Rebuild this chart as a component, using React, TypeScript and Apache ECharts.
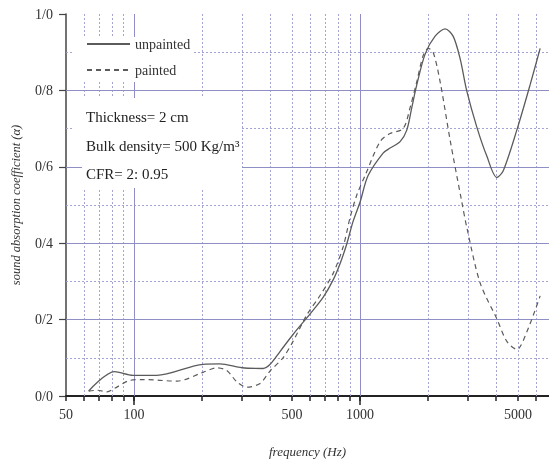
import React, { useEffect, useRef } from "react";
import * as echarts from "echarts";

const unpaintedFreq = [63, 82, 99, 126, 202, 240, 300, 372, 400, 443, 505, 601, 686, 760, 816, 873, 931, 1000, 1085, 1264, 1357, 1503, 1609, 1693, 1782, 1939, 2147, 2378, 2579, 2770, 2966, 3284, 3636, 4027, 4293, 4935, 5653, 6259];
const unpaintedAlpha = [0.013, 0.064, 0.054, 0.054, 0.083, 0.084, 0.074, 0.072, 0.083, 0.117, 0.161, 0.215, 0.258, 0.304, 0.347, 0.398, 0.457, 0.508, 0.577, 0.636, 0.649, 0.666, 0.696, 0.755, 0.815, 0.895, 0.942, 0.961, 0.942, 0.883, 0.798, 0.704, 0.628, 0.572, 0.589, 0.696, 0.815, 0.91];

const paintedFreq = [63, 69, 76, 82, 96, 110, 155, 202, 233, 258, 286, 316, 361, 400, 456, 505, 581, 665, 760, 841, 903, 967, 1052, 1226, 1357, 1550, 1664, 1782, 1901, 2000, 2104, 2259, 2502, 2818, 2966, 3396, 4027, 4458, 4935, 5466, 6259];
const paintedAlpha = [0.013, 0.015, 0.011, 0.02, 0.041, 0.043, 0.039, 0.062, 0.074, 0.066, 0.036, 0.023, 0.033, 0.066, 0.1, 0.143, 0.212, 0.263, 0.321, 0.39, 0.467, 0.526, 0.577, 0.666, 0.687, 0.7, 0.755, 0.823, 0.891, 0.91, 0.9, 0.823, 0.67, 0.508, 0.441, 0.296, 0.202, 0.143, 0.122, 0.168, 0.262];

const seriesNames = ["unpainted", "painted"];
const xLabelValues = [50, 100, 500, 1000, 5000];
const xTickValues = [50, 60, 70, 80, 90, 100, 200, 300, 400, 500, 600, 700, 800, 900, 1000, 2000, 3000, 4000, 5000, 6000];
const xLongTickValues = [100, 1000];
const minorXGrid = [60, 70, 80, 90, 200, 300, 400, 500, 600, 700, 800, 900, 2000, 3000, 4000, 5000, 6000];
const majorXGrid = [100, 1000];
const majorYGrid = [0.2, 0.4, 0.6, 0.8];
const minorYGrid = [0.1, 0.3, 0.5, 0.7, 0.9];
const notes = ["Thickness= 2 cm", "Bulk density= 500 Kg/m³", "CFR= 2: 0.95"];

const SERIF = "'Liberation Serif', 'DejaVu Serif', serif";

export default function App() {
  const ref = useRef<HTMLDivElement>(null);
  useEffect(() => {
    if (!ref.current) return;
    const chart = echarts.init(ref.current, undefined, { renderer: "svg" });
    const minorStyle = { color: "#a5a5d4", width: 1, type: [2, 2] as any };
    const majorStyle = { color: "#8f8fc6", width: 1, type: "solid" as any };
    const gridMarks = [
      ...minorXGrid.map((v) => ({ xAxis: v, lineStyle: minorStyle })),
      ...minorYGrid.map((v) => ({ yAxis: v, lineStyle: minorStyle })),
      ...majorXGrid.map((v) => ({ xAxis: v, lineStyle: majorStyle })),
      ...majorYGrid.map((v) => ({ yAxis: v, lineStyle: majorStyle })),
    ];
    chart.setOption({
      animation: false,
      grid: { left: 66, top: 14, right: 0, bottom: 57 },
      legend: {
        data: seriesNames,
        orient: "vertical",
        left: 86,
        top: 37,
        padding: 0,
        itemWidth: 43,
        itemHeight: 14,
        itemGap: 12,
        itemStyle: { opacity: 0 },
        textStyle: { fontFamily: SERIF, fontSize: 14, color: "#333" },
        z: 200,
      },
      xAxis: [
        {
          type: "log",
          logBase: 10,
          min: 50,
          max: 6850,
          name: "frequency (Hz)",
          nameLocation: "middle",
          nameGap: 49,
          nameTextStyle: { fontFamily: SERIF, fontStyle: "italic", fontSize: 13, color: "#333" },
          axisLine: { show: true, lineStyle: { color: "#222", width: 2 } },
          axisTick: { show: true, inside: false, length: 5, customValues: xTickValues, lineStyle: { color: "#222", width: 1.5 } },
          axisLabel: {
            customValues: xLabelValues,
            margin: 11,
            fontFamily: SERIF,
            fontSize: 14,
            color: "#333",
            formatter: (v: number) => String(Math.round(v)),
          },
          splitLine: { show: false },
        },
        {
          type: "log",
          logBase: 10,
          min: 50,
          max: 6850,
          position: "bottom",
          axisLine: { show: false },
          axisTick: { show: true, inside: false, length: 9, customValues: xLongTickValues, lineStyle: { color: "#222", width: 1.5 } },
          axisLabel: { show: false },
          splitLine: { show: false },
        },
      ],
      yAxis: {
        type: "value",
        min: 0,
        max: 1,
        interval: 0.2,
        name: "sound absorption coefficient (α)",
        nameLocation: "middle",
        nameGap: 44,
        nameTextStyle: { fontFamily: SERIF, fontStyle: "italic", fontSize: 12.5, color: "#333" },
        axisLine: { show: true, lineStyle: { color: "#444", width: 1.5 } },
        axisTick: { show: true, inside: false, length: 7, lineStyle: { color: "#444", width: 1.2 } },
        axisLabel: {
          margin: 13,
          fontFamily: SERIF,
          fontSize: 14,
          color: "#333",
          formatter: (v: number) => v.toFixed(1).replace(".", "/"),
        },
        splitLine: { show: false },
      },
      series: [
        {
          name: "grid",
          type: "line",
          data: [],
          silent: true,
          z: 1,
          markLine: { silent: true, symbol: "none", label: { show: false }, data: gridMarks },
        },
        {
          name: seriesNames[0],
          type: "line",
          z: 5,
          smooth: 0.3,
          symbol: "none",
          lineStyle: { color: "#5b5b5b", width: 1.3, type: "solid" },
          itemStyle: { color: "#5b5b5b" },
          data: unpaintedFreq.map((f, i) => [f, unpaintedAlpha[i]]),
        },
        {
          name: seriesNames[1],
          type: "line",
          z: 5,
          smooth: 0.3,
          symbol: "none",
          lineStyle: { color: "#5b5b5b", width: 1.2, type: [5, 4] },
          itemStyle: { color: "#5b5b5b" },
          data: paintedFreq.map((f, i) => [f, paintedAlpha[i]]),
        },
      ],
      graphic: [
        { type: "rect", z: 100, left: 73, top: 37, shape: { width: 120, height: 45 }, style: { fill: "#fff" } },
        { type: "rect", z: 100, left: 73, top: 98, shape: { width: 168, height: 67 }, style: { fill: "#fff" } },
        { type: "rect", z: 100, left: 82, top: 165, shape: { width: 160, height: 23 }, style: { fill: "#fff" } },
        ...notes.map((t, i) => ({
          type: "text",
          z: 150,
          left: 86,
          top: [109, 138, 166][i],
          style: { text: t, fill: "#222", font: `15px ${SERIF}` },
        })),
      ],
    });
    return () => chart.dispose();
  }, []);
  return <div ref={ref} style={{ position: "fixed", left: 0, top: 0, width: 549, height: 463 }} />;
}
